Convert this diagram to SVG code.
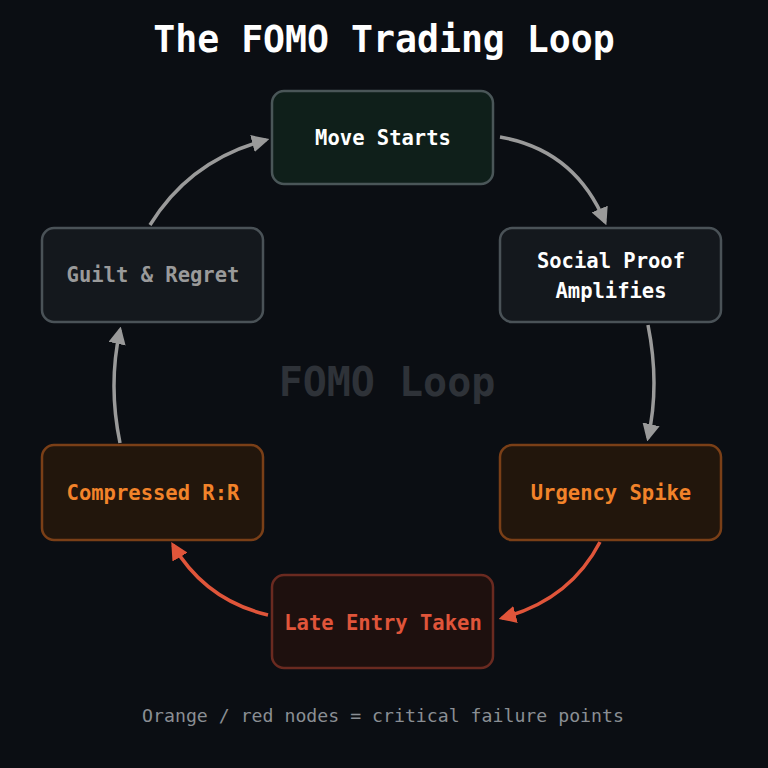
<svg xmlns="http://www.w3.org/2000/svg" width="768" height="768" viewBox="0 0 768 768">
<style>
text{font-family:"DejaVu Sans Mono","Liberation Mono",monospace;text-anchor:middle}
.t{font-size:20.5px;font-weight:bold}
.g path{fill:none;stroke-width:3.5}
.gr{stroke:#9a9a9a}
.rd{stroke:#e0553a}
</style>
<defs>
<marker id="ag" viewBox="0 0 10 10" refX="8" refY="5" markerWidth="5" markerHeight="5" orient="auto" markerUnits="strokeWidth"><path d="M0,0L10,5L0,10z" fill="#9a9a9a"/></marker>
<marker id="ar" viewBox="0 0 10 10" refX="8" refY="5" markerWidth="5" markerHeight="5" orient="auto" markerUnits="strokeWidth"><path d="M0,0L10,5L0,10z" fill="#e0553a"/></marker>
</defs>
<rect width="768" height="768" fill="#0b0e13"/>
<text x="384" y="52" font-size="36.5" font-weight="bold" fill="#ffffff">The FOMO Trading Loop</text>
<text x="387" y="396" font-size="40" font-weight="bold" fill="#2e3238">FOMO Loop</text>
<g class="g">
<path class="gr" d="M500,137 Q575,150 605,222" marker-end="url(#ag)"/>
<path class="gr" d="M648,325 Q660,385 648,438" marker-end="url(#ag)"/>
<path class="rd" d="M600,542 Q570,600 502,618" marker-end="url(#ar)"/>
<path class="rd" d="M268,615 Q205,600 173,545" marker-end="url(#ar)"/>
<path class="gr" d="M120,443 Q108,385 120,330" marker-end="url(#ag)"/>
<path class="gr" d="M150,225 Q190,160 266,140" marker-end="url(#ag)"/>
</g>
<g id="move"><rect x="272" y="91" width="221" height="93" rx="12" fill="#0f1f1a" stroke="#4a5658" stroke-width="2.5"/><text class="t" x="383" y="145" fill="#ffffff">Move Starts</text></g>
<g id="social"><rect x="500" y="228" width="221" height="94" rx="12" fill="#14181d" stroke="#4a5257" stroke-width="2.5"/><text class="t" x="611" y="268" fill="#ffffff">Social Proof</text><text class="t" x="611" y="298" fill="#ffffff">Amplifies</text></g>
<g id="guilt"><rect x="42" y="228" width="221" height="94" rx="12" fill="#14181d" stroke="#4a5257" stroke-width="2.5"/><text class="t" x="153" y="282" fill="#9a9a9a">Guilt &amp; Regret</text></g>
<g id="compressed"><rect x="42" y="445" width="221" height="95" rx="12" fill="#22160c" stroke="#7a3f17" stroke-width="2.5"/><text class="t" x="153" y="500" fill="#f2832a">Compressed R:R</text></g>
<g id="urgency"><rect x="500" y="445" width="221" height="95" rx="12" fill="#22160c" stroke="#7a3f17" stroke-width="2.5"/><text class="t" x="611" y="500" fill="#f2832a">Urgency Spike</text></g>
<g id="late"><rect x="272" y="575" width="221" height="93" rx="12" fill="#1e100e" stroke="#6a2a20" stroke-width="2.5"/><text class="t" x="383" y="630" fill="#e0553a">Late Entry Taken</text></g>
<text x="383" y="722" font-size="18.2" fill="#8a8e94">Orange / red nodes = critical failure points</text>
</svg>
